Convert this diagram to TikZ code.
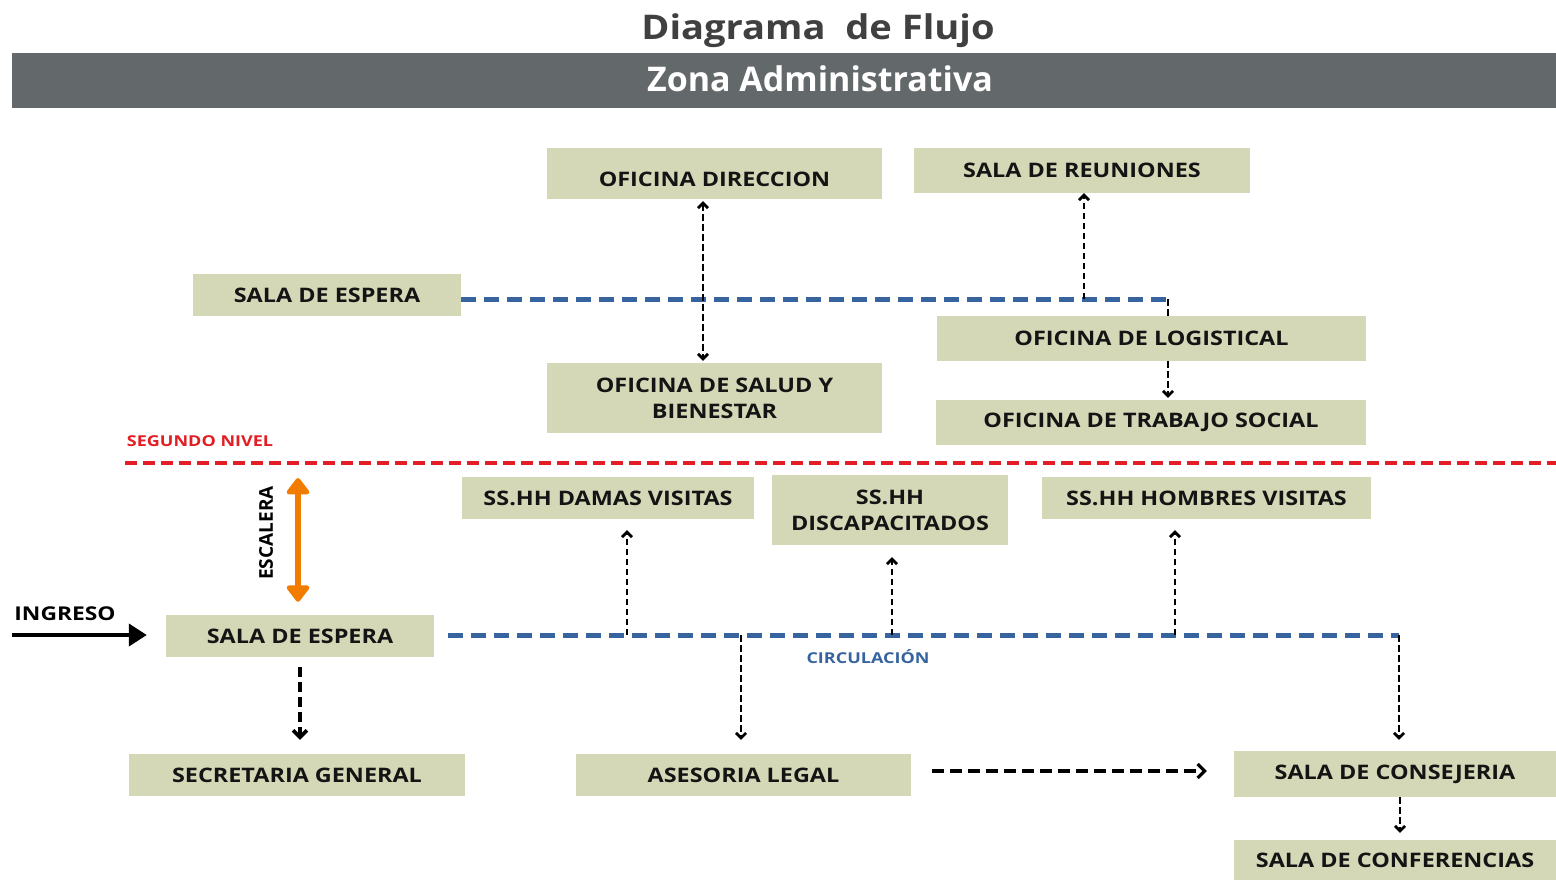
\documentclass[tikz,border=0pt]{standalone}
\usepackage{fontspec}
\setmainfont{Open Sans}
\newfontfamily\roomfont[FakeStretch=1.17]{Open Sans}
\newfontfamily\headfont[FakeStretch=1.12]{Open Sans}
\newfontfamily\tagfont[FakeStretch=1.2]{Open Sans}
\usetikzlibrary{arrows.meta,positioning}

\definecolor{roomfill}{RGB}{213,216,183}
\definecolor{bandgray}{RGB}{99,104,106}
\definecolor{titlegray}{RGB}{64,64,64}
\definecolor{circblue}{RGB}{55,100,158}
\definecolor{levelred}{RGB}{226,30,36}
\definecolor{stairorange}{RGB}{242,124,0}

\tikzset{
  room/.style={fill=roomfill, inner sep=0pt, align=center, text=black!92,
    font=\roomfont\bfseries\fontsize{20}{26}\selectfont},
  link/.style={line width=2.7pt, dash pattern=on 6.5pt off 3.5pt,
    -{Straight Barb[length=5pt,width=10pt]}},
  biglink/.style={line width=3.6pt, dash pattern=on 10pt off 5pt,
    -{Straight Barb[length=7pt,width=14pt]}},
  circ/.style={circblue, line width=5pt, dash pattern=on 15pt off 8pt},
  nivel/.style={levelred, line width=3.5pt, dash pattern=on 12pt off 6pt},
  tag/.style={font=\tagfont\bfseries\fontsize{15}{18}\selectfont}
}

\begin{document}
\begin{tikzpicture}[x=1pt,y=-1pt]
        \useasboundingbox (0,0) rectangle (1556,879);
        %Header
            \node[titlegray, font=\headfont\bfseries\fontsize{34}{40}\selectfont] (title) at (818,31) {Diagrama\ \ de Flujo};
            \fill[bandgray] (12,53) rectangle (1556,108);
            \node[white, font=\bfseries\fontsize{34}{40}\selectfont] (zona) at (820,79) {Zona Administrativa};
        %Upper level rooms
            \node[room, minimum width=335pt, text height=38pt, text depth=13pt] (dir) at (714.5,173.5) {OFICINA DIRECCION};
            \node[room, minimum width=336pt, minimum height=45pt] (reu) at (1082,170.5) {SALA DE REUNIONES};
            \node[room, minimum width=268pt, minimum height=42pt] (esp2) at (327,295) {SALA DE ESPERA};
            \node[room, minimum width=335pt, minimum height=70pt] (salud) at (714.5,398) {OFICINA DE SALUD Y\\BIENESTAR};
            \node[room, minimum width=429pt, minimum height=45pt] (logi) at (1151.5,338.5) {OFICINA DE LOGISTICAL};
            \node[room, minimum width=430pt, minimum height=45pt] (trab) at (1151,422.5) {OFICINA DE TRABAJO SOCIAL};
        %Lower level rooms
            \node[room, minimum width=292pt, minimum height=42pt] (damas) at (608,498) {SS.HH DAMAS VISITAS};
            \node[room, minimum width=236pt, minimum height=70pt] (disc) at (890,510) {SS.HH\\DISCAPACITADOS};
            \node[room, minimum width=329pt, minimum height=42pt] (homb) at (1206.5,498) {SS.HH HOMBRES VISITAS};
            \node[room, minimum width=268pt, minimum height=42pt] (esp1) at (300,636) {SALA DE ESPERA};
            \node[room, minimum width=336pt, minimum height=42pt] (secr) at (297,775) {SECRETARIA GENERAL};
            \node[room, minimum width=335pt, minimum height=42pt] (ases) at (743.5,775) {ASESORIA LEGAL};
            \node[room, minimum width=322pt, minimum height=46pt] (cons) at (1395,774) {SALA DE CONSEJERIA};
            \node[room, minimum width=322pt, minimum height=40pt] (conf) at (1395,860) {SALA DE CONFERENCIAS};
        %Level line
            \coordinate (nivelW) at (125,463);
            \coordinate (nivelE) at (1556,463);
            \draw[nivel] (nivelW) -- (nivelE);
            \node[levelred, tag] (nivel) at (200,441) {SEGUNDO NIVEL};
        %Upper circulation
            \coordinate (turnA) at (1168,299);
            \coordinate (teeA) at (1084,299);
            \draw[circ] ([yshift=-4pt]esp2.east) -- (turnA);
            \draw[line width=2.7pt, dash pattern=on 6.5pt off 3.5pt] (turnA) -- (turnA |- logi.north);
            \draw[link] (teeA) -- (teeA |- reu.south);
            \draw[link, shorten >=2pt] (turnA |- logi.south) -- (turnA |- trab.north);
            \draw[link, {Straight Barb[length=5pt,width=10pt]}-{Straight Barb[length=5pt,width=10pt]}, shorten <=2pt, shorten >=2pt]
                ([xshift=-11.5pt]dir.south) -- ([xshift=-11.5pt]salud.north);
            \draw[line width=2.7pt, dash pattern=on 6.5pt off 3.5pt] ([xshift=-26pt]esp2.south) -- (esp2.south -| 301,463);
        %Stairs
            \draw[stairorange, line width=6pt, {Triangle[length=18pt,width=26pt,round]}-{Triangle[length=18pt,width=26pt,round]}, shorten <=15pt, shorten >=13pt]
                ([xshift=-2pt]esp1.north |- nivelW) -- ([xshift=-2pt]esp1.north);
            \node[rotate=90, font=\bfseries\fontsize{19}{22}\selectfont] (escalera) at (266,533) {ESCALERA};
        %Entrance
            \coordinate (entrada) at (12,635);
            \draw[line width=4pt, -{Triangle[length=18pt,width=22pt]}, shorten >=19pt] (entrada) -- (esp1.west |- entrada);
            \node[font=\tagfont\bfseries\fontsize{19}{22}\selectfont] (ingreso) at (65,614) {INGRESO};
        %Lower circulation
            \coordinate (turnB) at (1399,635);
            \draw[circ, shorten <=14pt] ([yshift=1pt]esp1.east) -- (turnB);
            \node[circblue, tag] (circulacion) at (868,657) {CIRCULACIÓN};
            \draw[link, shorten >=11pt] (627,635) coordinate (teeB) -- (teeB |- damas.south);
            \draw[link, shorten >=12pt] (892,635) coordinate (teeC) -- (teeC |- disc.south);
            \draw[link, shorten >=11pt] (1175,635) coordinate (teeD) -- (teeD |- homb.south);
            \draw[link, shorten >=14pt] (741,635) coordinate (teeE) -- (teeE |- ases.north);
            \draw[link, shorten >=11pt] (turnB) -- (turnB |- cons.north);
        %Flow between rooms
            \draw[biglink, shorten <=10pt, shorten >=14pt] (esp1.south) -- (esp1.south |- secr.north);
            \draw[biglink, line width=3.2pt, dash pattern=on 12pt off 6pt, shorten <=21pt, shorten >=27pt]
                ([yshift=4pt]ases.east) -- ([yshift=4pt]ases.east -| cons.west);
            \draw[link, shorten >=7pt] ([xshift=5pt]cons.south) -- ([xshift=5pt]conf.north);
\end{tikzpicture}
\end{document}
